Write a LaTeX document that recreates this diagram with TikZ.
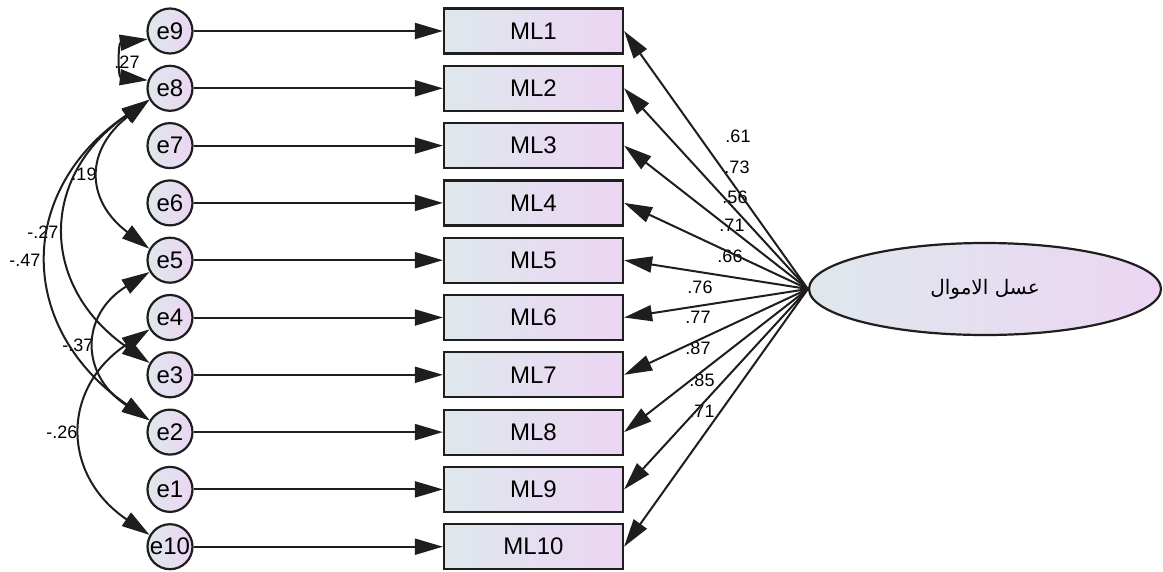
\documentclass[tikz,border=0pt]{standalone}
\usepackage{fontspec}
\setmainfont{Liberation Sans}
\newfontfamily\arabicfont[Script=Arabic]{DejaVu Sans}
\TeXXeTstate=1
\usetikzlibrary{arrows.meta,shapes.geometric}
\definecolor{shadeL}{RGB}{222,232,236}
\definecolor{shadeR}{RGB}{236,213,243}
\definecolor{edgegray}{RGB}{30,30,30}

\begin{document}
\begin{tikzpicture}[x=1pt,y=1pt,
  lnk/.style={line width=2pt, draw=edgegray, -{Triangle[length=28pt,width=16pt]}},
  cov/.style={line width=2pt, draw=edgegray, {Triangle[length=28pt,width=16pt]}-{Triangle[length=28pt,width=16pt]}},
  obs/.style={rectangle, draw=edgegray, line width=2.2pt, minimum width=179pt, minimum height=45pt,
    inner sep=0pt, left color=shadeL, right color=shadeR, font=\fontsize{24}{28}\selectfont},
  err/.style={circle, draw=edgegray, line width=2.2pt, minimum size=45pt, inner sep=0pt,
    left color=shadeL, right color=shadeR, font=\fontsize{24}{28}\selectfont},
  lat/.style={ellipse, draw=edgegray, line width=2.2pt, minimum width=352pt, minimum height=92pt,
    inner sep=0pt, left color=shadeL, right color=shadeR},
  coef/.style={inner sep=0pt, font=\fontsize{18}{20}\selectfont}
]
\useasboundingbox (0,0) rectangle (1163,-571);
\fill[white] (0,0) rectangle (1163,-571);

% error terms
\node[err] (e9)  at (170,-31.0)  {e9};
\node[err] (e8)  at (170,-88.3)  {e8};
\node[err] (e7)  at (170,-145.6) {e7};
\node[err] (e6)  at (170,-202.9) {e6};
\node[err] (e5)  at (170,-260.2) {e5};
\node[err] (e4)  at (170,-317.5) {e4};
\node[err] (e3)  at (170,-374.8) {e3};
\node[err] (e2)  at (170,-432.1) {e2};
\node[err] (e1)  at (170,-489.4) {e1};
\node[err] (e10) at (170,-546.7) {e10};

% observed indicators
\node[obs] (ML1)  at (533.5,-31.0)  {ML1};
\node[obs] (ML2)  at (533.5,-88.3)  {ML2};
\node[obs] (ML3)  at (533.5,-145.6) {ML3};
\node[obs] (ML4)  at (533.5,-202.9) {ML4};
\node[obs] (ML5)  at (533.5,-260.2) {ML5};
\node[obs] (ML6)  at (533.5,-317.5) {ML6};
\node[obs] (ML7)  at (533.5,-374.8) {ML7};
\node[obs] (ML8)  at (533.5,-432.1) {ML8};
\node[obs] (ML9)  at (533.5,-489.4) {ML9};
\node[obs] (ML10) at (533.5,-546.7) {ML10};

% latent factor
\node[lat] (F) at (985,-289) {\arabicfont\fontsize{20}{24}\selectfont\beginR عسل الاموال\endR};

% standardized loadings
\node[coef] (l1)  at (738,-136) {.61};
\node[coef] (l2)  at (737,-167) {.73};
\node[coef] (l3)  at (735,-197) {.56};
\node[coef] (l4)  at (732,-225) {.71};
\node[coef] (l5)  at (730,-256) {.66};
\node[coef] (l6)  at (700,-287) {.76};
\node[coef] (l7)  at (698,-317) {.77};
\node[coef] (l8)  at (698,-348) {.87};
\node[coef] (l9)  at (702,-380) {.85};
\node[coef] (l10) at (702,-411) {.71};

% correlations between error terms
\node[coef] (c98)  at (127,-62)  {.27};
\node[coef] (c85)  at (84,-174)  {.19};
\node[coef] (c83)  at (43,-232)  {-.27};
\node[coef] (c82)  at (25,-260)  {-.47};
\node[coef] (c52)  at (78,-345)  {-.37};
\node[coef] (c410) at (62,-432)  {-.26};

% error paths
\draw[lnk] (e9)  -- (ML1);
\draw[lnk] (e8)  -- (ML2);
\draw[lnk] (e7)  -- (ML3);
\draw[lnk] (e6)  -- (ML4);
\draw[lnk] (e5)  -- (ML5);
\draw[lnk] (e4)  -- (ML6);
\draw[lnk] (e3)  -- (ML7);
\draw[lnk] (e2)  -- (ML8);
\draw[lnk] (e1)  -- (ML9);
\draw[lnk] (e10) -- (ML10);

% factor loadings
\foreach \k in {1,...,10}
  \draw[lnk] (F.west) -- (ML\k.east);

% covariances
\draw[cov] (e9.200) .. controls (118,-43) and (118,-77) .. (e8.160);
\draw[cov] (e8.209) .. controls (85,-150) and (85,-200) .. (e5.151);
\draw[cov] (e8.209) .. controls (39,-176) and (39,-286) .. (e3.150);
\draw[cov] (e8.209) .. controls (16,-190) and (16,-328) .. (e2.150);
\draw[cov] (e5.210) .. controls (80,-315) and (80,-375) .. (e2.150);
\draw[cov] (e4.210) .. controls (61,-388) and (61,-475) .. (e10.150);
\end{tikzpicture}
\end{document}
